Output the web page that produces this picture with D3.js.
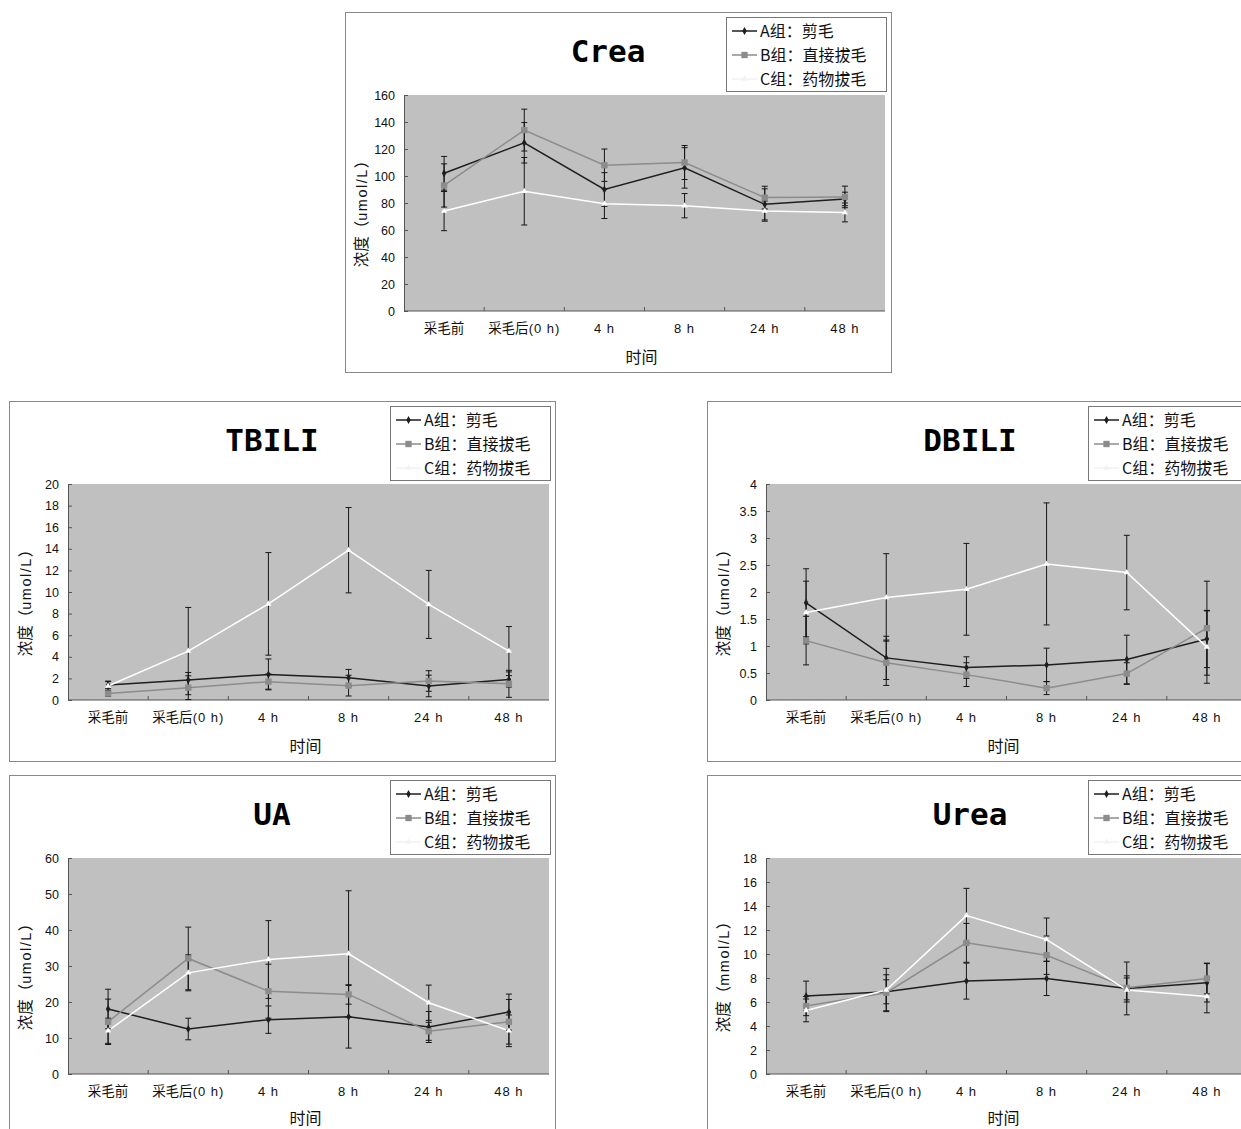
<!DOCTYPE html>
<html>
<head>
<meta charset="utf-8">
<script src="https://d3js.org/d3.v7.min.js"></script>
<style>
  body { margin: 0; background: #fff; overflow: hidden; }
  svg { display: block; }
</style>
</head>
<body>
<svg id="chart" width="1241" height="1129"></svg>
<script>
// categories and legend
const cats = ['采毛前', '采毛后(0 h)', '4 h', '8 h', '24 h', '48 h'];
const groups = ['A组：剪毛', 'B组：直接拔毛', 'C组：药物拔毛'];

// Crea
const creaA = [102, 124.6, 90, 106, 79, 83];
const creaAerr = [12.5, 15, 12.5, 15, 11.5, 5];
const creaB = [93, 134, 108, 110, 84, 84.5];
const creaBerr = [16, 15.5, 12, 12.6, 8.4, 8];
const creaC = [74, 88.7, 79.5, 78, 74, 73];
const creaCerr = [14.5, 25, 11, 9, 7.5, 7];

// TBILI
const tbiliA = [1.4, 1.85, 2.37, 2.06, 1.3, 1.9];
const tbiliAerr = [0.35, 0.7, 1.43, 0.77, 1.0, 0.7];
const tbiliB = [0.6, 1.14, 1.7, 1.33, 1.76, 1.5];
const tbiliBerr = [0.25, 1.1, 0.7, 0.96, 0.95, 1.25];
const tbiliC = [1.3, 4.53, 8.9, 13.87, 8.85, 4.53];
const tbiliCerr = [0.4, 4.04, 4.75, 3.95, 3.15, 2.27];

// DBILI
const dbiliA = [1.8, 0.78, 0.6, 0.65, 0.75, 1.13];
const dbiliAerr = [0.63, 0.4, 0.2, 0.31, 0.45, 0.53];
const dbiliB = [1.1, 0.69, 0.47, 0.22, 0.49, 1.33];
const dbiliBerr = [0.45, 0.42, 0.22, 0.12, 0.2, 0.87];
const dbiliC = [1.62, 1.9, 2.05, 2.52, 2.36, 0.98];
const dbiliCerr = [0.58, 0.81, 0.85, 1.13, 0.69, 0.67];

// UA
const uaA = [18.05, 12.5, 15.1, 15.9, 13.05, 17.2];
const uaAerr = [5.5, 3, 3.8, 8.7, 4.3, 5];
const uaB = [14.5, 32.1, 23.0, 22.1, 11.85, 14.5];
const uaBerr = [6.3, 8.7, 7.5, 2.7, 2.5, 6.2];
const uaC = [12.0, 28.1, 31.8, 33.4, 19.8, 12.0];
const uaCerr = [3.5, 5, 10.8, 17.5, 4.9, 4.4];

// Urea
const ureaA = [6.49, 6.85, 7.74, 7.96, 7.13, 7.6];
const ureaAerr = [1.25, 1.0, 1.5, 1.42, 2.2, 1.6];
const ureaB = [5.66, 6.77, 10.93, 9.9, 7.18, 7.96];
const ureaBerr = [0.8, 1.5, 1.62, 1.6, 1.0, 1.28];
const ureaC = [5.3, 7.0, 13.2, 11.2, 7.0, 6.46];
const ureaCerr = [0.95, 1.8, 2.27, 1.8, 1.0, 1.36];

const lineColor = ['#1e1e1e', '#8c8c8c', '#ffffff'];
const cjk = '"Noto Sans CJK SC", "Noto Sans", sans-serif';
const latinFont = '"Liberation Sans", Arial, sans-serif';

var svg = d3.select('#chart');

// split a label into CJK / latin runs
function mixedText(sel, str, cjkSize, latinSize, spacing) {
  var runs = str.match(/[\x00-\x7f]+|[^\x00-\x7f]+/g) || [];
  runs.forEach(r => {
    var latin = /^[\x00-\x7f]/.test(r);
    sel.append('tspan')
      .attr('font-family', latin ? latinFont : cjk)
      .attr('font-size', latin ? latinSize : cjkSize)
      .attr('letter-spacing', latin ? spacing : 0)
      .attr('xml:space', 'preserve')
      .text(r);
  });
}

function drawPanel(px, py, title, ymax, ystep, ylabel, series, errs) {
  var g = svg.append('g').attr('transform', `translate(${px},${py})`);
  var w = 546, h = 360;
  var pl = 59, pt = 83, pw = 481, ph = 216;

  g.append('rect')
    .attr('x', 0.5).attr('y', 0.5).attr('width', w).attr('height', h)
    .attr('fill', '#fff').attr('stroke', '#888');

  var x = d3.scaleBand().domain(cats).range([pl, pl + pw]);
  var y = d3.scaleLinear().domain([0, ymax]).range([pt + ph, pt]);

  g.append('rect')
    .attr('x', pl).attr('y', pt).attr('width', pw).attr('height', ph)
    .attr('fill', '#c0c0c0');

  // y axis, ticks inside
  var yticks = d3.range(0, ymax + ystep / 2, ystep);
  var ya = g.append('g').attr('transform', `translate(${pl},0)`)
    .call(d3.axisRight(y).tickValues(yticks).tickSize(4).tickFormat(d => d3.format('~g')(d)));
  ya.select('.domain').attr('stroke', '#555');
  ya.selectAll('.tick line').attr('stroke', '#555');
  ya.selectAll('.tick text')
    .attr('x', -9).attr('text-anchor', 'end')
    .attr('font-family', latinFont)
    .attr('font-size', 12.5).attr('fill', '#111');

  // x axis, ticks between categories pointing up
  var xa = g.append('g').attr('transform', `translate(0,${pt + ph})`);
  xa.append('line').attr('x1', pl).attr('x2', pl + pw).attr('stroke', '#555');
  xa.selectAll('line.tk').data(cats.slice(1))
    .enter().append('line').attr('class', 'tk')
    .attr('x1', d => x(d)).attr('x2', d => x(d))
    .attr('y1', 0).attr('y2', -4).attr('stroke', '#555');
  xa.selectAll('text').data(cats)
    .enter().append('text')
    .attr('x', d => x(d) + x.bandwidth() / 2).attr('y', 22)
    .attr('text-anchor', 'middle').attr('fill', '#111')
    .each(function (d) { mixedText(d3.select(this), d, 13.5, 13, 1); });

  // lines
  var line = d3.line().x((d, i) => x(cats[i]) + x.bandwidth() / 2).y(d => y(d));
  series.forEach((s, k) => {
    g.append('path').datum(s)
      .attr('d', line).attr('fill', 'none')
      .attr('stroke', lineColor[k]).attr('stroke-width', 1.5);
  });

  // error bars
  series.forEach((s, k) => {
    var eb = g.append('g');
    s.forEach((v, i) => {
      var cx = x(cats[i]) + x.bandwidth() / 2;
      var e = errs[k][i];
      eb.append('line').attr('x1', cx).attr('x2', cx)
        .attr('y1', y(v - e)).attr('y2', y(v + e))
        .attr('stroke', '#151515').attr('stroke-width', 1);
      [v - e, v + e].forEach(t => {
        eb.append('line').attr('x1', cx - 3).attr('x2', cx + 3)
          .attr('y1', y(t)).attr('y2', y(t))
          .attr('stroke', '#151515').attr('stroke-width', 1);
      });
    });
  });

  // markers
  var sym = [d3.symbolDiamond, d3.symbolSquare, d3.symbolTriangle];
  var symSize = [18, 40, 16];
  series.forEach((s, k) => {
    g.append('g').selectAll('path').data(s)
      .enter().append('path')
      .attr('transform', (d, i) => `translate(${x(cats[i]) + x.bandwidth() / 2},${y(d)})`)
      .attr('d', d3.symbol().type(sym[k]).size(symSize[k]))
      .attr('fill', lineColor[k]);
  });

  // title
  g.append('text')
    .attr('x', 263).attr('y', 50)
    .attr('text-anchor', 'middle')
    .attr('font-family', '"DejaVu Sans Mono", monospace')
    .attr('font-weight', 'bold').attr('font-size', 31)
    .attr('fill', '#000')
    .text(title);

  // y label
  var yl = g.append('text')
    .attr('transform', `translate(22,198) rotate(-90)`)
    .attr('text-anchor', 'middle').attr('fill', '#111');
  mixedText(yl, ylabel, 15.5, 14.5, 1.5);

  // x label (kept inside the page for the bottom row)
  var xlY = Math.min(351, 1129 - py - 5);
  g.append('text')
    .attr('x', pl + pw / 2 - 3).attr('y', xlY)
    .attr('text-anchor', 'middle')
    .attr('font-family', cjk).attr('font-size', 16).attr('fill', '#111')
    .text('时间');

  // legend
  var lg = g.append('g').attr('transform', 'translate(381,5)');
  lg.append('rect').attr('x', 0.5).attr('y', 0.5).attr('width', 160).attr('height', 74)
    .attr('fill', '#fff').attr('stroke', '#777');
  groups.forEach((name, k) => {
    var ry = 14 + 24 * k;
    lg.append('line').attr('x1', 6).attr('x2', 31).attr('y1', ry).attr('y2', ry)
      .attr('stroke', k == 2 ? '#f2f2f2' : lineColor[k]).attr('stroke-width', 1.5);
    lg.append('path').attr('transform', `translate(18.5,${ry})`)
      .attr('d', d3.symbol().type(sym[k]).size(symSize[k]))
      .attr('fill', k == 2 ? '#f2f2f2' : lineColor[k]);
    lg.append('text').attr('x', 34).attr('y', ry + 5.5)
      .attr('font-family', cjk).attr('font-size', 16).attr('fill', '#111')
      .text(name);
  });
}

drawPanel(345, 12, 'Crea', 160, 20, '浓度（umol/L）',
  [creaA, creaB, creaC], [creaAerr, creaBerr, creaCerr]);
drawPanel(9, 401, 'TBILI', 20, 2, '浓度（umol/L）',
  [tbiliA, tbiliB, tbiliC], [tbiliAerr, tbiliBerr, tbiliCerr]);
drawPanel(707, 401, 'DBILI', 4, 0.5, '浓度（umol/L）',
  [dbiliA, dbiliB, dbiliC], [dbiliAerr, dbiliBerr, dbiliCerr]);
drawPanel(9, 775, 'UA', 60, 10, '浓度（umol/L）',
  [uaA, uaB, uaC], [uaAerr, uaBerr, uaCerr]);
drawPanel(707, 775, 'Urea', 18, 2, '浓度（mmol/L）',
  [ureaA, ureaB, ureaC], [ureaAerr, ureaBerr, ureaCerr]);
</script>
</body>
</html>
